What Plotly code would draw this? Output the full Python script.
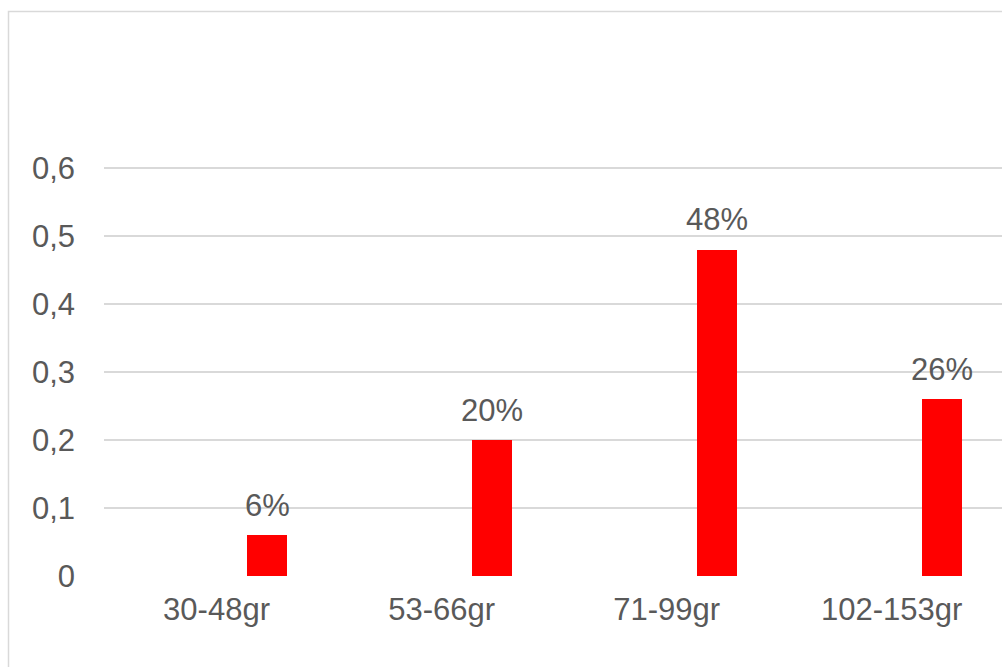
import plotly.graph_objects as go

# Weight classes and their share of the sample
categories = ["30-48gr", "53-66gr", "71-99gr", "102-153gr"]
shares = [0.06, 0.20, 0.48, 0.26]
share_labels = ["6%", "20%", "48%", "26%"]

# Y axis ticks (decimal comma)
y_tick_values = [0, 0.1, 0.2, 0.3, 0.4, 0.5, 0.6]
y_tick_labels = ["0", "0,1", "0,2", "0,3", "0,4", "0,5", "0,6"]

TEXT = "#595959"
GRID = "#d9d9d9"
FONT = "Liberation Sans, Arial, sans-serif"
BAR_W = 0.178
BAR_OFF = 0.136

fig = go.Figure()
fig.add_trace(go.Bar(
    x=categories,
    y=shares,
    width=BAR_W,
    offset=BAR_OFF,
    marker=dict(color="#ff0000", line=dict(width=0)),
    showlegend=False,
    hoverinfo="skip",
))

annotations = []
for i, (v, lab) in enumerate(zip(shares, share_labels)):
    annotations.append(dict(
        x=i + BAR_OFF + BAR_W / 2, y=v, xref="x", yref="y",
        text=lab, showarrow=False, yanchor="middle", yshift=30,
        font=dict(family=FONT, size=31, color=TEXT),
    ))

# Plot area in pixels: x 104..1002, y 100..576
L, R, T, B = 104, 1002, 100, 576
W, H = R - L, B - T

def px_x(p):
    return (p - L) / W

def px_y(p):
    return (B - p) / H

fig.update_layout(
    width=1002, height=667,
    margin=dict(l=L, r=1002 - R, t=T, b=667 - B, pad=0),
    paper_bgcolor="white", plot_bgcolor="white",
    font=dict(family=FONT, size=31, color=TEXT),
    bargap=0,
    annotations=annotations,
    shapes=[dict(
        type="path", xref="paper", yref="paper",
        path=f"M {px_x(8.5)} {px_y(700)} L {px_x(8.5)} {px_y(11.5)} L {px_x(1010)} {px_y(11.5)}",
        line=dict(color=GRID, width=1.5),
    )],
    xaxis=dict(
        type="category",
        range=[-0.5, 3.49],
        showgrid=False, zeroline=False, showline=False,
        ticks="", tickfont=dict(family=FONT, size=31, color=TEXT),
        ticklabelstandoff=12,
    ),
    yaxis=dict(
        range=[0, 0.7],
        tickvals=y_tick_values, ticktext=y_tick_labels,
        showgrid=True, gridcolor=GRID, gridwidth=1.5,
        zeroline=False, showline=False, ticks="",
        tickfont=dict(family=FONT, size=31, color=TEXT),
        ticklabelstandoff=28,
    ),
)

fig.write_html("out.html")
